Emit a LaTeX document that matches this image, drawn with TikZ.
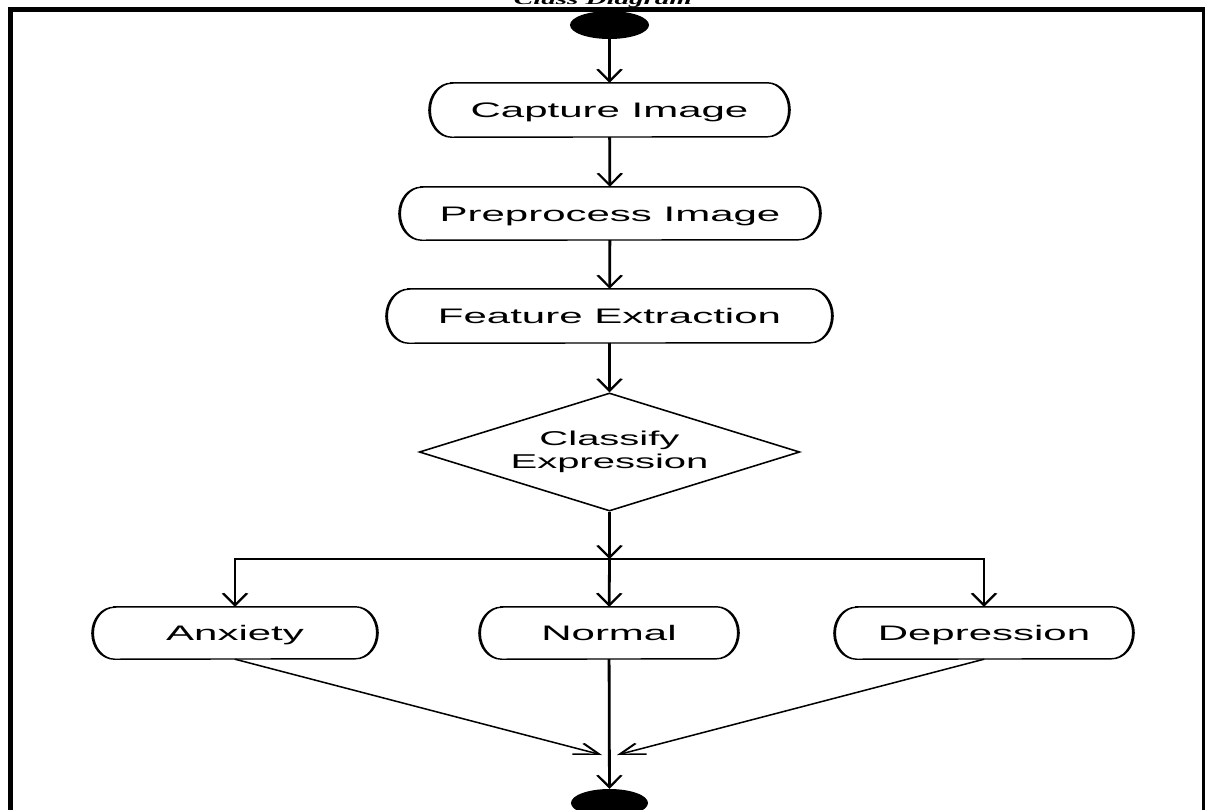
\documentclass[tikz,border=0pt]{standalone}
\usepackage{fontspec}
\setmainfont{Liberation Sans}
\newfontfamily\titlefont{Liberation Serif}
\usetikzlibrary{shapes.geometric,arrows.meta}

\tikzset{
  % action state: text node whose outline has elliptical ends
  activity/.style 2 args={inner sep=0pt, minimum width=#1, minimum height=#2,
    text height=15pt, text depth=0pt,
    font=\fontsize{21}{24}\selectfont,
    append after command={\pgfextra{%
      \draw[line width=1.4pt]
        ([xshift=11pt]\tikzlastnode.north west) -- ([xshift=-11pt]\tikzlastnode.north east)
        arc[start angle=90, end angle=-90, x radius=11pt, y radius=#2/2]
        -- ([xshift=11pt]\tikzlastnode.south west)
        arc[start angle=270, end angle=90, x radius=11pt, y radius=#2/2]
        -- cycle;}}},
  decision/.style={draw, diamond, line width=1.4pt, minimum width=190.5pt, minimum height=118pt,
    inner sep=0pt, aspect=1.61, align=center, font=\fontsize{20}{23}\selectfont},
  terminal/.style={ellipse, fill=black, minimum width=39.5pt, minimum height=28pt, inner sep=0pt},
  flow/.style={line width=1.4pt, -{Straight Barb[length=12pt,width=12pt]}},
}

\begin{document}
\begin{tikzpicture}[x=1pt,y=-1pt]
\useasboundingbox (0,0) rectangle (1205,809);
\clip (0,0) rectangle (1205,809);
\fill[white] (0,0) rectangle (1205,809);

% frame
\draw[line width=5pt] (10,820) -- (10,9) -- (1205,9);
\draw[line width=3pt] (1203.5,9) -- (1203.5,820);

% activity flow, drawn at half width and stretched horizontally
\begin{scope}[transform canvas={xscale=2}]
  % caption above the frame
  \node[font=\titlefont\bfseries\itshape\fontsize{14.5}{16}\selectfont, anchor=base, inner sep=0pt]
    (title) at (301.5,4) {Class Diagram};

  \node[terminal] (start) at (304.75,25) {};
  \node[activity={179.5pt}{54pt}] (cap) at (304.75,110) {Capture Image};
  \node[activity={210pt}{53pt}] (pre) at (305,213.5) {Preprocess Image};
  \node[activity={222.5pt}{54pt}] (feat) at (304.75,316) {Feature Extraction};
  \node[decision] (dia) at (304.75,452) {Classify\\Expression};
  \coordinate (J) at (304.75,559);
  \node[activity={142pt}{52pt}] (anx) at (117.5,633) {Anxiety};
  \node[activity={129pt}{52pt}] (norm) at (304.5,633) {Normal};
  \node[activity={149pt}{52pt}] (dep) at (492,633) {Depression};
  \coordinate (mL) at (301,755);
  \coordinate (mR) at (308.5,755);
  \node[terminal, minimum width=38.5pt] (end) at (304.75,803) {};

  \draw[flow] (start) -- (cap);
  \draw[flow] (cap) -- (pre);
  \draw[flow] (pre) -- (feat);
  \draw[flow] (feat) -- (dia);
  \draw[flow] (dia) -- (J);
  \draw[flow] (J) -| (anx);
  \draw[flow] (J) -| (dep);
  \draw[flow] (J) -- (norm);
  \draw[flow] (anx.south) -- (mL);
  \draw[flow] (dep.south) -- (mR);
  \draw[flow] (norm) -- (end);
\end{scope}
\end{tikzpicture}
\end{document}
